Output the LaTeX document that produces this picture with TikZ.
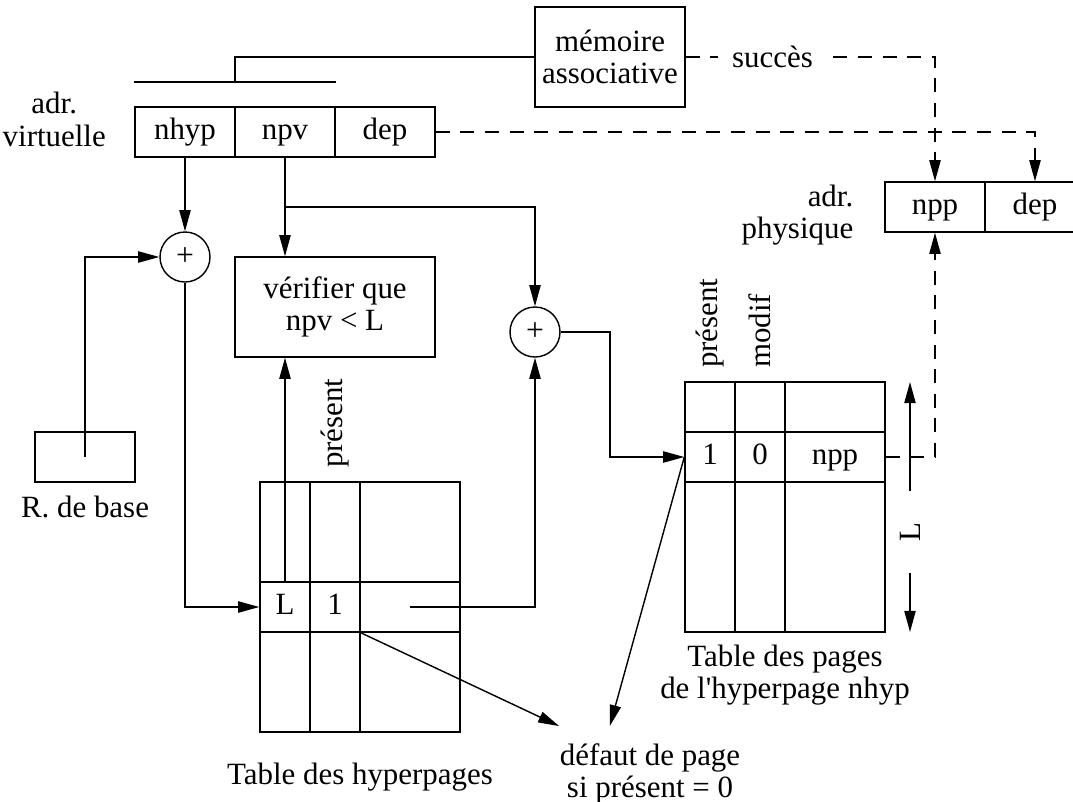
\documentclass[tikz,border=0pt]{standalone}
\usepackage{fontspec}
\setmainfont{Liberation Serif}
\usetikzlibrary{arrows.meta,positioning,calc}

\begin{document}
\begin{tikzpicture}[x=0.5cm,y=0.5cm,>={Triangle[length=6pt,width=3.2pt]},
  font=\fontsize{8.8}{9.2}\selectfont,every node/.style={inner sep=1pt},
  cell/.style={draw,minimum width=1cm,minimum height=0.5cm,inner sep=0pt,text height=6pt,text depth=1.8pt},
  box/.style={draw,align=center,inner sep=0pt},
  slot/.style={minimum width=0.5cm,minimum height=0.5cm,inner sep=0pt,text height=6pt,text depth=1.8pt},
  adder/.style={draw,circle,minimum size=0.5cm,inner sep=0pt,font=\fontsize{9}{9}\selectfont},
  dline/.style={dash pattern=on 4pt off 3pt}]
  \useasboundingbox (-0.7,0.14) rectangle (20.76,-15.9);

  \node[cell] (nhyp) at (3,-2.5) {nhyp};
  \node[cell] (npv) at (5,-2.5) {npv};
  \node[cell] (dep) at (7,-2.5) {dep};
  \node[anchor=east,align=center] (vlab) at (1.5,-2.25) {adr.\\virtuelle};
  \node[box,minimum width=1.5cm,minimum height=1cm] (mem) at (11.5,-1) {mémoire\\associative};
  \node[cell] (npp) at (18,-4) {npp};
  \node[cell] (pdep) at (20,-4) {dep};
  \node[anchor=east,align=right] (plab) at (16.45,-4.16) {adr.\\physique};

  \node[adder] (add1) at (3,-5) {+};
  \node[adder] (add2) at (10,-6.5) {+};
  \node[box,minimum width=2cm,minimum height=1cm] (verif) at (6,-6) {vérifier que\\npv < L};
  \node[box,minimum width=1cm,minimum height=0.5cm] (base) at (1,-9) {};
  \node (blab) at (1,-10) {R. de base};

  % table des hyperpages
  \draw (4.5,-9.5) rectangle (8.5,-14.5);
  \foreach \x in {5.5,6.5} \draw (\x,-9.5) -- (\x,-14.5);
  \foreach \y in {-11.5,-12.5} \draw (4.5,\y) -- (8.5,\y);
  \node[slot] (hL) at (5,-12) {L};
  \node[slot] (h1) at (6,-12) {1};
  \node[slot,minimum width=1cm] (hx) at (7.5,-12) {};
  \node[rotate=90,anchor=west] (hpres) at (6,-9.3) {présent};
  \node (htab) at (6.5,-15.4) {Table des hyperpages};

  % table des pages
  \draw (13,-7.5) rectangle (17,-12.5);
  \foreach \x in {14,15} \draw (\x,-7.5) -- (\x,-12.5);
  \foreach \y in {-8.5,-9.5} \draw (13,\y) -- (17,\y);
  \node[slot] (p1) at (13.5,-9) {1};
  \node[slot] (p0) at (14.5,-9) {0};
  \node[slot,minimum width=1cm] (pnpp) at (16,-9) {npp};
  \node[rotate=90,anchor=west] (ppres) at (13.5,-7.3) {présent};
  \node[rotate=90,anchor=west] (pmod) at (14.5,-7.3) {modif};
  \node[rotate=90,minimum width=0.8cm] (Llen) at (17.5,-10.5) {L};
  \node[align=center] (ptab) at (15,-13.36) {Table des pages\\de l\textquotesingle hyperpage nhyp};
  \node[align=center,inner xsep=0pt,inner ysep=4.8pt] (fault) at (12.3,-15.34) {défaut de page\\si présent = 0};

  \coordinate (bar) at (4,-1.5);
  \draw (mem.west) -| (bar);
  \draw (nhyp.west |- bar) -- (npv.east |- bar);
  \draw[dline,->] (dep.east) -| (pdep.north);
  \draw[dline,->] (mem.east) -| (npp.north);
  \node[fill=white,inner sep=4pt] (succ) at (14.75,-1) {succès};
  \draw[dline,->] (pnpp.east) -| (npp.south);

  \draw[->] (nhyp) -- (add1);
  \draw (npv) -- (5,-4) coordinate (fork);
  \draw[->] (fork) -- (fork |- verif.north);
  \draw[->] (fork) -| (add2);
  \draw[->] (base.center) |- (add1);
  \draw[->] (add1) |- (hL);
  \draw[->] (hL.north) -- (hL.north |- verif.south);
  \draw[->] (hx.center) -| (add2);
  \draw[->] (add2) -| (11.5,-9) -- (p1);
  \draw[->] (Llen) -- (17.5,-7.5);
  \draw[->] (Llen) -- (17.5,-12.5);
  \draw[->] (h1.south east) -- (fault.north west);
  \draw[->] (p1.west) -- (fault.130);
\end{tikzpicture}
\end{document}
